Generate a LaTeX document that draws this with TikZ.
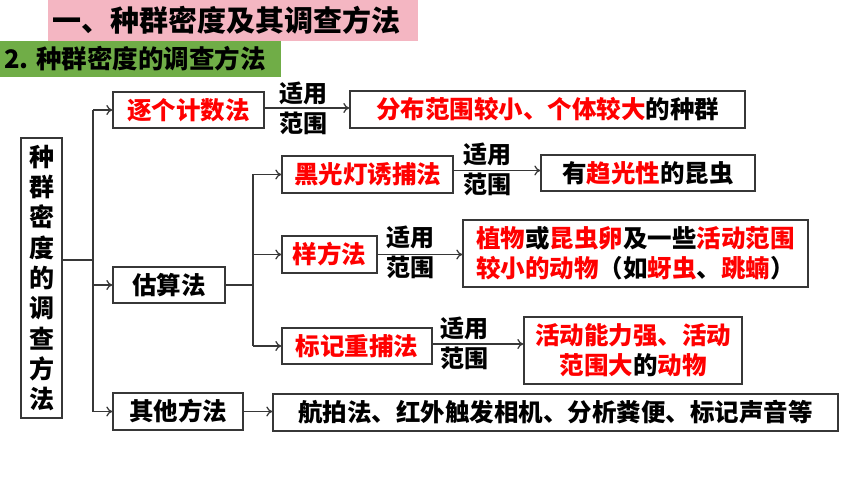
\documentclass[tikz,border=0pt]{standalone}
\usepackage{fontspec}
\setmainfont{Noto Sans CJK SC}[BoldFont={Noto Sans CJK SC Black}]
\usetikzlibrary{arrows.meta}
\definecolor{pinkbar}{RGB}{244,182,194}
\definecolor{greenbar}{RGB}{112,173,71}
\definecolor{myred}{RGB}{255,0,0}
\definecolor{edgec}{RGB}{55,55,55}
\newcommand{\rd}[1]{\textcolor{myred}{#1}}
\begin{document}
\begin{tikzpicture}[x=1pt,y=-1pt,
  box/.style={draw=edgec, line width=1.3pt, inner sep=0pt, align=center,
    font=\fontsize{24.5}{30}\selectfont\bfseries},
  lab/.style={inner sep=0pt, align=center, font=\fontsize{24}{30}\selectfont\bfseries},
  wire/.style={draw=edgec, line width=1.2pt},
  conn/.style={draw=edgec, line width=1.2pt, -{To[length=6pt,width=10pt]}}]
\useasboundingbox (0,0) rectangle (860,484);
% title bars
\fill[pinkbar] (48,0) rectangle (418,41);
\node[anchor=west, inner sep=0pt, font=\fontsize{29}{32}\selectfont\bfseries] (title) at (52,20) {一、种群密度及其调查方法};
\fill[greenbar] (0,41) rectangle (281,77);
\node[anchor=west, inner sep=0pt, font=\fontsize{25.5}{28}\selectfont\bfseries] (sub) at (4,59) {2. 种群密度的调查方法};
% left box
\node[box, minimum width=41pt, minimum height=280pt, font=\fontsize{25}{30.3}\selectfont\bfseries] (L) at (41.5,278) {种\\群\\密\\度\\的\\调\\查\\方\\法};
% level 1
\node[box, minimum width=151pt, minimum height=36pt] (A) at (188.5,110) {\rd{逐个计数法}};
\node[box, minimum width=112pt, minimum height=36pt] (B) at (169,285) {估算法};
\node[box, minimum width=130pt, minimum height=37pt] (C) at (178,411.5) {其他方法};
% targets
\node[box, minimum width=395pt, minimum height=37pt] (A2) at (547.5,109.5) {\rd{分布范围较小、个体较大}的种群};
\node[box, minimum width=565pt, minimum height=37pt] (C2) at (555.5,412.5) {航拍法、红外触发相机、分析粪便、标记声音等};
% level 2
\node[box, minimum width=171pt, minimum height=37pt] (D) at (367.5,174.5) {\rd{黑光灯诱捕法}};
\node[box, minimum width=95pt, minimum height=37pt] (E) at (329.5,254.5) {\rd{样方法}};
\node[box, minimum width=150pt, minimum height=36pt] (F) at (357,346) {\rd{标记重捕法}};
\node[box, minimum width=214pt, minimum height=36pt] (D2) at (648,173) {有\rd{趋光性}的昆虫};
\node[box, minimum width=345pt, minimum height=67pt, align=left] (E2) at (635.5,253.5) {\rd{植物}或\rd{昆虫卵}及一些\rd{活动范围}\\\rd{较小的动物}（如\rd{蚜虫}、\rd{跳蝻}）};
\node[box, minimum width=218pt, minimum height=67pt] (F2) at (633,350.5) {\rd{活动能力强、活动}\\\rd{范围大}的\rd{动物}};
% labels
\node[lab] (la) at (303.5,108) {适用\\范围};
\node[lab] (ld) at (487,169) {适用\\范围};
\node[lab] (le) at (410,252) {适用\\范围};
\node[lab] (lf) at (464,343) {适用\\范围};
% trunk 1
\coordinate (j1) at (93,0);
\coordinate (s1) at (93,260);
\draw[wire] ([yshift=18pt]L.east) -- (s1);
\draw[wire] (j1 |- A.west) -- (j1 |- C.west);
\draw[conn] (j1 |- A.west) -- (A.west);
\draw[conn] (j1 |- B.west) -- (B.west);
\draw[conn] (j1 |- C.west) -- (C.west);
% trunk 2
\coordinate (j2) at (253,0);
\draw[wire] (B.east) -- (j2 |- B.east);
\draw[wire] (j2 |- D.west) -- (j2 |- F.west);
\draw[conn] (j2 |- D.west) -- (D.west);
\draw[conn] (j2 |- E.west) -- (E.west);
\draw[conn] (j2 |- F.west) -- (F.west);
% applies arrows
\draw[conn] ([yshift=2pt]A.east) -- ([yshift=2pt]A.east -| A2.west);
\draw[conn] ([yshift=4pt]D.east) -- ([yshift=4pt]D.east -| D2.west);
\draw[conn] (E.east) -- (E.east -| E2.west);
\draw[conn] ([yshift=2pt]F.east) -- ([yshift=2pt]F.east -| F2.west);
\draw[conn] (C.east) -- (C.east -| C2.west);
\end{tikzpicture}
\end{document}
